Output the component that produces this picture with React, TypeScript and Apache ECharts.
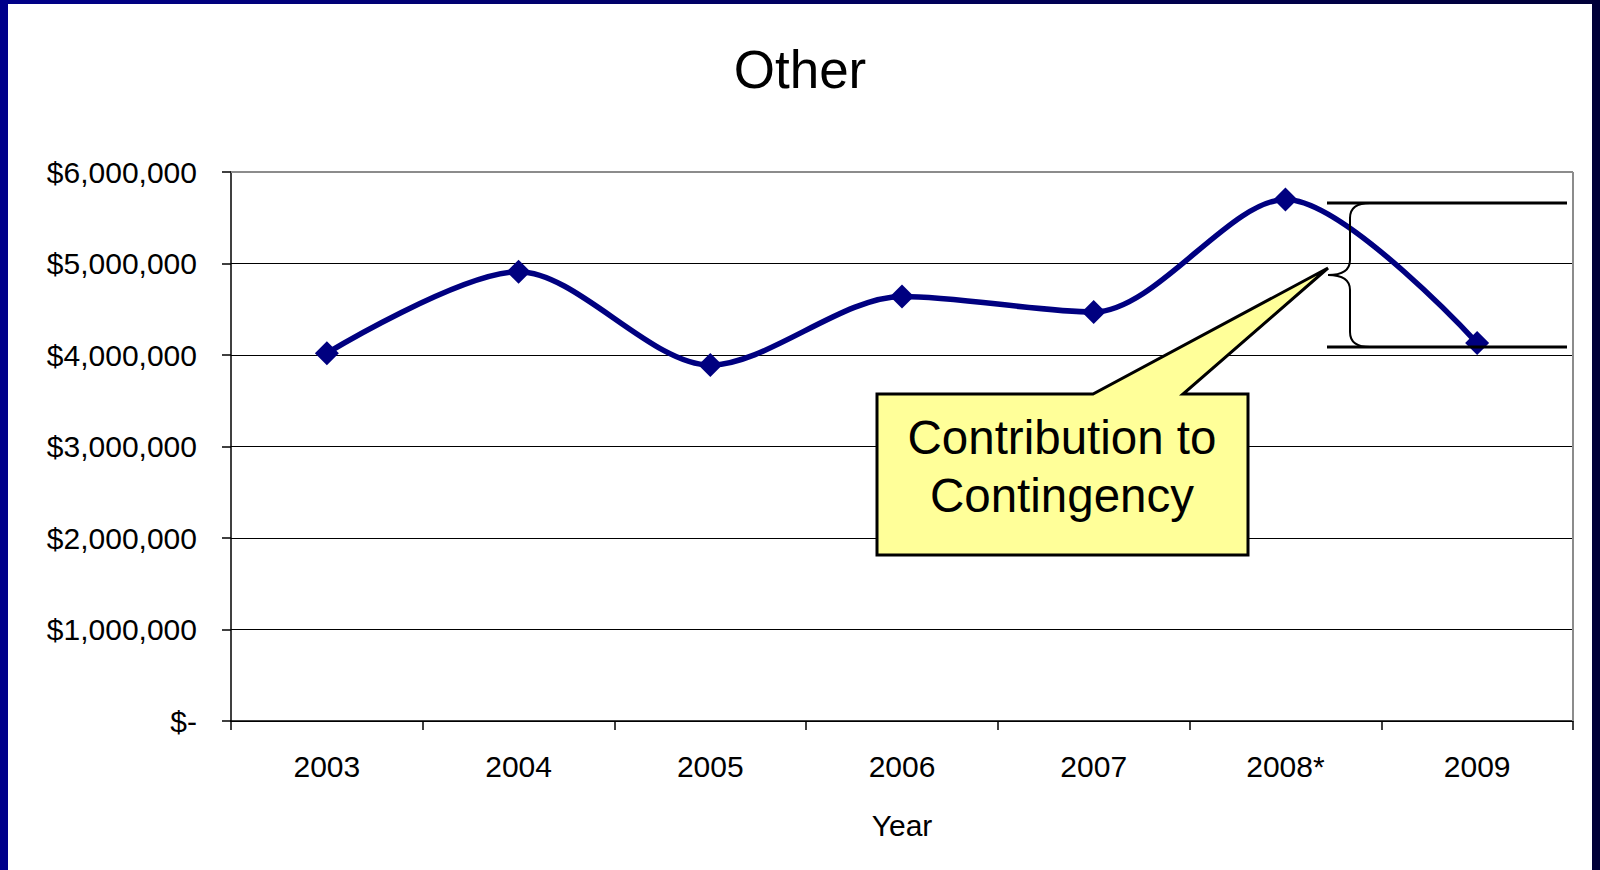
import React, { useEffect, useRef } from "react";
import * as echarts from "echarts";

const categories = ["2003", "2004", "2005", "2006", "2007", "2008*", "2009"];
const otherValues = [4020000, 4910000, 3890000, 4640000, 4470000, 5700000, 4130000];
const yTicks = [0, 1000000, 2000000, 3000000, 4000000, 5000000, 6000000];
const titleText = "Other";
const xName = "Year";
const calloutLines = ["Contribution to", "Contingency"];

const FONT = "'Liberation Sans', Arial, sans-serif";

function fmtMoney(v: number): string {
  if (v === 0) return "$-";
  return "$" + v.toLocaleString("en-US");
}

const bracePath =
  "M1370,203 Q1350,203 1350,218 L1350,260 Q1350,275 1328,275 Q1350,275 1350,290 L1350,332 Q1350,347 1370,347";

export default function App() {
  const ref = useRef<HTMLDivElement>(null);
  useEffect(() => {
    if (!ref.current) return;
    try {
      echarts.graphic.registerShape("brace", echarts.graphic.extendPath(bracePath, {}));
    } catch (e) {}
    const chart = echarts.init(ref.current, null, { renderer: "svg" });
    const splitColors = yTicks.map((v, i) => (i === yTicks.length - 1 ? "transparent" : "#000"));
    chart.setOption({
      animation: false,
      backgroundColor: "#ffffff",
      title: {
        text: titleText,
        left: "center",
        top: 38,
        textStyle: { fontFamily: FONT, fontSize: 53, fontWeight: "normal", color: "#000" },
      },
      grid: { left: 231, top: 172, right: 27, bottom: 149, containLabel: false },
      xAxis: {
        type: "category",
        data: categories,
        boundaryGap: true,
        name: xName,
        nameLocation: "middle",
        nameGap: 89,
        nameTextStyle: { fontFamily: FONT, fontSize: 30, color: "#000" },
        axisLine: { lineStyle: { color: "#000", width: 1.5 } },
        axisTick: { show: true, length: 9, interval: 0, lineStyle: { color: "#000", width: 1.5 } },
        axisLabel: { fontFamily: FONT, fontSize: 30, color: "#000", margin: 30, interval: 0 },
        splitLine: { show: false },
      },
      yAxis: {
        type: "value",
        min: 0,
        max: 6000000,
        interval: 1000000,
        axisLine: { show: true, lineStyle: { color: "#000", width: 1.5 } },
        axisTick: { show: true, length: 9, lineStyle: { color: "#000", width: 1.5 } },
        axisLabel: {
          fontFamily: FONT,
          fontSize: 30,
          color: "#000",
          margin: 34,
          formatter: (v: number) => fmtMoney(v),
        },
        splitLine: { show: true, lineStyle: { color: splitColors, width: 1.2 } },
      },
      series: [
        {
          type: "line",
          data: otherValues,
          smooth: 0.3,
          symbol: "diamond",
          symbolSize: 24,
          itemStyle: { color: "#000080" },
          lineStyle: { color: "#000080", width: 5.5 },
          z: 5,
        },
      ],
      graphic: [
        { type: "line", shape: { x1: 231, y1: 172, x2: 1573, y2: 172 }, style: { stroke: "#8c8c8c", lineWidth: 2 }, z: 1 },
        { type: "line", shape: { x1: 1573, y1: 172, x2: 1573, y2: 721 }, style: { stroke: "#8c8c8c", lineWidth: 2 }, z: 1 },
        {
          type: "rect",
          shape: { x: 0, y: 0, width: 1600, height: 4 },
          style: {
            fill: new echarts.graphic.LinearGradient(0, 0, 1, 0, [
              { offset: 0, color: "#000088" },
              { offset: 1, color: "#000038" },
            ]),
          },
          z: 10,
        },
        { type: "rect", shape: { x: 0, y: 0, width: 8, height: 870 }, style: { fill: "#00008a" }, z: 10 },
        { type: "rect", shape: { x: 1592, y: 0, width: 8, height: 870 }, style: { fill: "#000038" }, z: 10 },
        { type: "line", shape: { x1: 1327, y1: 203, x2: 1567, y2: 203 }, style: { stroke: "#000", lineWidth: 3 }, z: 6 },
        { type: "line", shape: { x1: 1327, y1: 347, x2: 1567, y2: 347 }, style: { stroke: "#000", lineWidth: 3 }, z: 6 },
        { type: "brace", x: 0, y: 0, style: { stroke: "#000", lineWidth: 2, fill: "none" }, z: 6 },
        {
          type: "polygon",
          shape: {
            points: [
              [877, 394],
              [1093, 394],
              [1328, 268],
              [1183, 394],
              [1248, 394],
              [1248, 555],
              [877, 555],
            ],
          },
          style: { fill: "#ffff99", stroke: "#000", lineWidth: 3 },
          z: 7,
        },
        {
          type: "text",
          x: 1062,
          y: 437,
          style: {
            text: calloutLines[0],
            fontFamily: FONT,
            fontSize: 47.5,
            fill: "#000",
            align: "center",
            verticalAlign: "middle",
          },
          z: 8,
        },
        {
          type: "text",
          x: 1062,
          y: 495,
          style: {
            text: calloutLines[1],
            fontFamily: FONT,
            fontSize: 47.5,
            fill: "#000",
            align: "center",
            verticalAlign: "middle",
          },
          z: 8,
        },
      ],
    });
    return () => chart.dispose();
  }, []);
  return (
    <div
      ref={ref}
      style={{ position: "fixed", left: 0, top: 0, width: 1600, height: 870, background: "#fff" }}
    />
  );
}
